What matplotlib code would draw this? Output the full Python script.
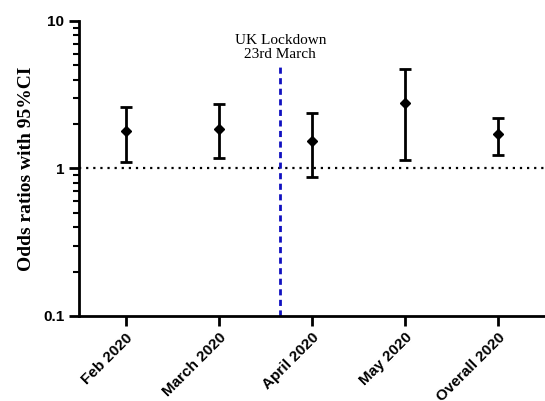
import numpy as np
import matplotlib.pyplot as plt

labels = ['Feb 2020', 'March 2020', 'April 2020', 'May 2020', 'Overall 2020']
odds = [1.80, 1.86, 1.54, 2.77, 1.71]
lower = [1.11, 1.17, 0.87, 1.14, 1.24]
upper = [2.61, 2.74, 2.37, 4.73, 2.19]
lockdown_x = 1.66

x = np.arange(len(labels))
odds = np.array(odds)
yerr = [odds - np.array(lower), np.array(upper) - odds]

fig = plt.figure(figsize=(5.45, 4.01), dpi=100)
ax = fig.add_axes([0.145, 0.212, 0.855, 0.736])

ax.errorbar(x, odds, yerr=yerr, fmt='D', color='black', ms=5,
            elinewidth=2, capsize=4, capthick=2, zorder=3)
ax.axhline(1, color='black', ls=(0, (1, 2.2)), lw=1.6, zorder=1)
ax.vlines(lockdown_x, 0.1, 5.0, color='#1010c0', ls=(0, (2.2, 1.6)), lw=2, zorder=2)
ax.text(lockdown_x, 8.1, 'UK Lockdown\n23rd March', ha='center', va='top',
        family='Liberation Serif', fontsize=11, linespacing=1.05)

ax.set_yscale('log')
ax.set_ylim(0.1, 10)
ax.set_xlim(-0.5, 4.5)
ax.set_yticks([0.1, 1, 10])
ax.set_yticklabels(['0.1', '1', '10'])
ax.set_xticks(x)
ax.set_xticklabels(labels, rotation=45, ha='right', rotation_mode='anchor')
for t in ax.get_xticklabels() + ax.get_yticklabels():
    t.set_family('Liberation Sans')
    t.set_fontweight('bold')
    t.set_fontsize(11)

ax.set_ylabel('Odds ratios with 95%CI', family='Liberation Serif',
              fontweight='bold', fontsize=14, labelpad=6)

for s in ['top', 'right']:
    ax.spines[s].set_visible(False)
for s in ['left', 'bottom']:
    ax.spines[s].set_linewidth(2)
ax.tick_params(which='major', width=2, length=7)
ax.tick_params(which='minor', width=1.5, length=4)
ax.tick_params(axis='x', which='minor', length=0)

fig.savefig('out.png', dpi=100)
